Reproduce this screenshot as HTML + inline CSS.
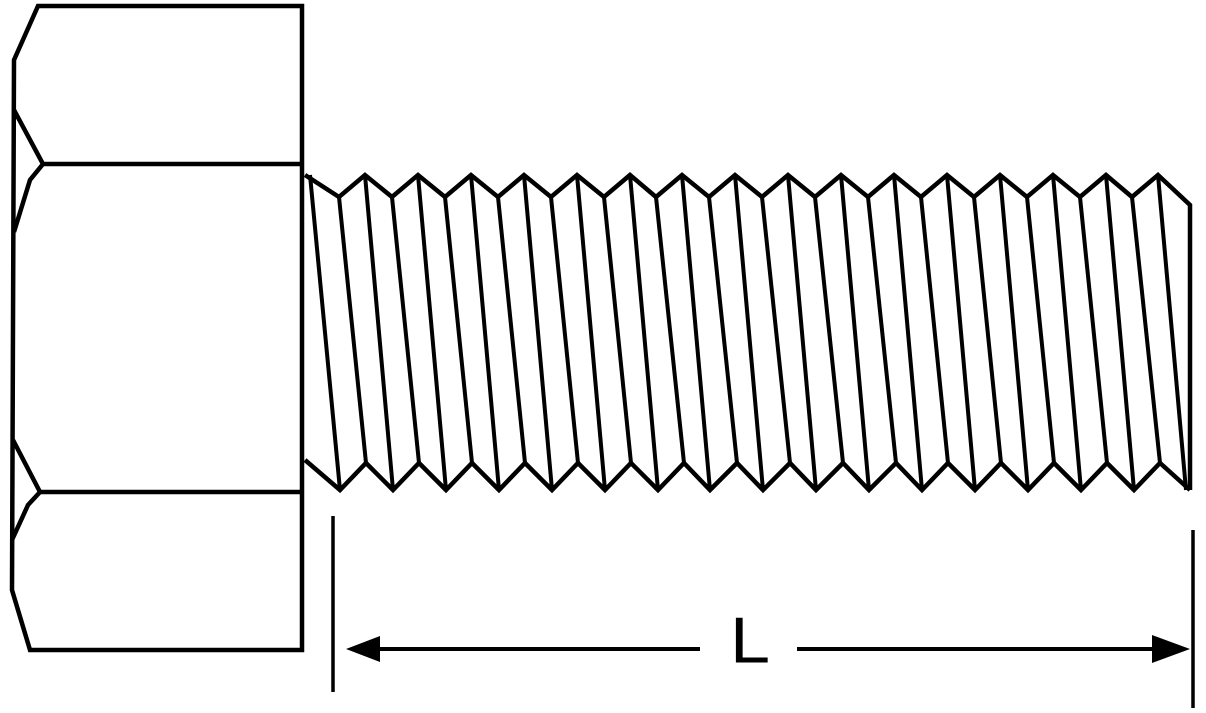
<!DOCTYPE html>
<html><head><meta charset="utf-8"><style>
html,body{margin:0;padding:0;background:#fff;width:1206px;height:713px;overflow:hidden}
svg{display:block}
</style></head><body>
<svg width="1206" height="713" viewBox="0 0 1206 713" xmlns="http://www.w3.org/2000/svg">
<g fill="none" stroke="#000" stroke-width="4.5" stroke-linejoin="miter">
<!-- head -->
<polyline points="302,164 302,6 38,6 14,60 12,590 30,650 302,650 302,492"/>
<line x1="302" y1="164" x2="302" y2="492"/>
<line x1="43" y1="164" x2="302" y2="164"/>
<line x1="40" y1="492" x2="302" y2="492"/>
<polyline points="14,110 43,164 30,180 14,232"/>
<polyline points="13,440 40,492 28,505 12,540"/>
<!-- thread outline -->
<polyline points="305,175 339,197 365,175 392,197 418,175 445,197 471,175 498,197 524,175 551,197 577,175 604,197 630,175 656,197 682,175 709,197 735,175 762,197 788,175 815,197 841,175 868,197 894,175 921,197 947,175 974,197 1000,175 1027,197 1053,175 1080,197 1106,175 1132,197 1158,175 1190,205 1190,490"/>
<polyline points="305,460 340,490 366,463 393,490 419,463 446,490 472,463 499,490 525,463 552,490 578,463 605,490 631,463 658,490 684,463 710,490 737,463 763,490 790,463 816,490 843,463 869,490 896,463 922,490 948,463 975,490 1001,463 1028,490 1054,463 1081,490 1107,463 1134,490 1160,463 1190,490"/>
<!-- helix lines -->
<path d="M310,175L340,490 M365,175L393,490 M418,175L446,490 M471,175L499,490 M524,175L552,490 M577,175L605,490 M630,175L658,490 M682,175L710,490 M735,175L763,490 M788,175L816,490 M841,175L869,490 M894,175L922,490 M947,175L975,490 M1000,175L1028,490 M1053,175L1081,490 M1106,175L1134,490 M1158,175L1186,490
M339,197L366,463 M392,197L419,463 M445,197L472,463 M498,197L525,463 M551,197L578,463 M604,197L631,463 M656,197L684,463 M709,197L737,463 M762,197L790,463 M815,197L843,463 M868,197L896,463 M921,197L948,463 M974,197L1001,463 M1027,197L1054,463 M1080,197L1107,463 M1132,197L1160,463" stroke-width="4"/>
<!-- dimension -->
<line x1="333" y1="516" x2="333" y2="692" stroke-width="3.5"/>
<line x1="1193" y1="530" x2="1193" y2="708" stroke-width="3.5"/>
<line x1="370" y1="649" x2="700" y2="649" stroke-width="4"/>
<line x1="797" y1="649" x2="1160" y2="649" stroke-width="4"/>
</g>
<polygon points="346,649 380,636 380,662" fill="#000"/>
<polygon points="1190,649 1152,635 1152,663" fill="#000"/>
<text x="730" y="663" font-family="'Liberation Sans',sans-serif" font-size="72" fill="#000" transform="scale(1,0.9) translate(0,73)">L</text>
</svg>
</body></html>
